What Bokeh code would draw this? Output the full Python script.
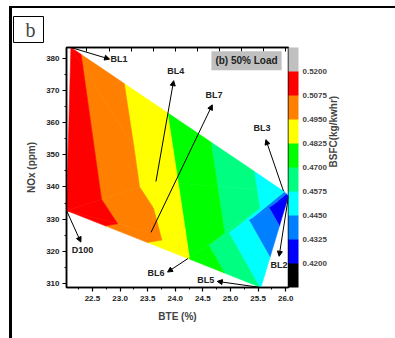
import math
from bokeh.plotting import figure
from bokeh.models import (ColumnDataSource, LinearAxis, SingleIntervalTicker, FixedTicker,
                          ColorBar, LinearColorMapper, PrintfTickFormatter, Arrow, NormalHead,
                          Label, Range1d)
from bokeh.core.properties import value
from bokeh.embed import file_html
from bokeh.resources import INLINE

# ---------------- data ----------------
blends = ["D100", "BL1", "BL2", "BL3", "BL4", "BL5", "BL6", "BL7"]
bte = [22.03, 22.11, 26.05, 25.96, 23.65, 25.55, 24.23, 23.56]      # BTE (%)
nox = [332.7, 383.3, 337.2, 338.7, 341.7, 308.8, 317.8, 325.9]      # NOx (ppm)
bsfc = [0.519, 0.5104, 0.4205, 0.449, 0.4896, 0.457, 0.483, 0.500]  # BSFC (kg/kWhr)

# triangulation of the scattered points (indices into the arrays above)
triangles = [(1, 3, 4), (1, 4, 0), (0, 4, 7), (0, 7, 6), (7, 4, 6), (4, 3, 6), (3, 2, 6), (6, 2, 5)]

levels = [0.4200, 0.4325, 0.4450, 0.4575, 0.4700, 0.4825, 0.4950, 0.5075, 0.5200]
level_colors = ["#000000", "#0000FF", "#0080FF", "#00FFFF", "#00FF80",
                "#00FF00", "#FFFF00", "#FF8000", "#FF0000", "#C0C0C0"]

# annotation placement (label centres and arrow tips), kept apart from the data
label_bte = [22.32, 22.98, 25.88, 25.57, 24.01, 24.55, 23.65, 24.70]
label_nox = [320.5, 379.8, 315.9, 358.2, 376.0, 311.2, 313.4, 368.5]
tip_bte = [22.29, 22.81, 25.88, 25.64, 23.97, 24.76, 23.86, 24.67]
tip_nox = [322.9, 379.7, 318.5, 354.7, 373.0, 310.7, 313.6, 365.5]

FONT = "Liberation Sans"

# ---------------- filled contours (linear interpolation on triangles) ----------------
def clip(poly, c, keep_above):
    out = []
    n = len(poly)
    for i in range(n):
        p0 = poly[i]
        p1 = poly[(i + 1) % n]
        in0 = p0[2] >= c if keep_above else p0[2] <= c
        in1 = p1[2] >= c if keep_above else p1[2] <= c
        if in0:
            out.append(p0)
        if in0 != in1:
            t = (c - p0[2]) / (p1[2] - p0[2])
            out.append((p0[0] + t * (p1[0] - p0[0]), p0[1] + t * (p1[1] - p0[1]), c))
    return out

bounds = [-math.inf] + levels + [math.inf]
xs, ys, cols = [], [], []
for tri in triangles:
    base = [(bte[i], nox[i], bsfc[i]) for i in tri]
    for k in range(len(bounds) - 1):
        poly = base
        if bounds[k] != -math.inf:
            poly = clip(poly, bounds[k], True)
        if len(poly) >= 3 and bounds[k + 1] != math.inf:
            poly = clip(poly, bounds[k + 1], False)
        if len(poly) >= 3:
            xs.append([q[0] for q in poly])
            ys.append([q[1] for q in poly])
            cols.append(level_colors[k])

# figure is shifted by (12, 8) inside the page; the panel rules are drawn by CSS shadows
p = figure(width=383, height=330,
           x_range=Range1d(min(bte), max(bte)), y_range=Range1d(min(nox), max(nox)),
           output_backend="svg", toolbar_location=None,
           min_border_left=54, min_border_right=107, min_border_top=39, min_border_bottom=51)
p.styles = {"margin-left": "12px", "margin-top": "8px",
            "box-shadow": "0 -2px 0 0 #000, -3px 0 0 0 #000, -3px -2px 0 0 #000"}
p.background_fill_color = "white"
p.border_fill_color = "white"
p.outline_line_color = "black"
p.outline_line_width = 1.5
p.grid.visible = False

p.patches(xs="xs", ys="ys", fill_color="c", line_color="c", line_width=0.6,
          source=ColumnDataSource(dict(xs=xs, ys=ys, c=cols)))

# ---------------- panel letter ----------------
p.title.text = "b"
p.title.align = "left"
p.title.offset = -53
p.title.text_font = "Liberation Serif"
p.title.text_font_style = "normal"
p.title.text_font_size = "20px"
p.title.border_line_color = "black"
p.title.border_line_width = 1
p.title.background_fill_color = "white"
p.title.padding = dict(left=12, right=8, top=2, bottom=2)

# ---------------- axes ----------------
p.xaxis.ticker = SingleIntervalTicker(interval=0.5, num_minor_ticks=2)
p.xaxis.formatter = PrintfTickFormatter(format="%.1f")
p.yaxis.ticker = SingleIntervalTicker(interval=10, num_minor_ticks=2)
p.xaxis.axis_label = "BTE (%)"
p.yaxis.axis_label = "NOx (ppm)"
for ax in (p.xaxis, p.yaxis):
    ax.axis_line_width = 1.5
    ax.major_tick_in = 0
    ax.major_tick_out = 4
    ax.minor_tick_in = 0
    ax.minor_tick_out = 2
    ax.major_tick_line_width = 1.2
    ax.major_label_text_font = FONT
    ax.major_label_text_font_style = "bold"
    ax.major_label_text_font_size = "8px"
    ax.major_label_text_color = "#222222"
    ax.axis_label_text_font = FONT
    ax.axis_label_text_font_style = "bold"
    ax.axis_label_text_font_size = "10px"
p.xaxis.major_label_standoff = 4
p.xaxis.axis_label_standoff = 7
p.yaxis.major_label_standoff = 3
p.yaxis.axis_label_standoff = 6

top = LinearAxis(ticker=SingleIntervalTicker(interval=0.4, num_minor_ticks=0),
                 major_tick_in=4, major_tick_out=0, minor_tick_line_color=None,
                 major_label_text_color=None, major_label_standoff=8, axis_line_width=1.5)
p.add_layout(top, "above")

# ---------------- colour scale ----------------
step = levels[1] - levels[0]
mapper = LinearColorMapper(palette=level_colors, low=levels[0] - step, high=levels[-1] + step)
cb = ColorBar(color_mapper=mapper, ticker=FixedTicker(ticks=levels),
              formatter=PrintfTickFormatter(format="%.4f"), width=10,
              padding=0, margin=0, label_standoff=4,
              major_tick_in=0, major_tick_out=0, minor_tick_line_color=None,
              major_label_text_font=FONT, major_label_text_font_style="bold",
              major_label_text_font_size="8px", bar_line_color=None,
              border_line_color=None, background_fill_color=None)
p.add_layout(cb, "right")

cb_title = LinearAxis(ticker=FixedTicker(ticks=[]), axis_line_color=None,
                      major_tick_line_color=None, minor_tick_line_color=None,
                      major_label_standoff=0, axis_label="BSFC(kg/kwhr)",
                      axis_label_standoff=4, axis_label_orientation=math.pi / 2,
                      axis_label_text_font=FONT, axis_label_text_font_style="bold",
                      axis_label_text_font_size="10px")
p.add_layout(cb_title, "right")

# ---------------- point labels & arrows ----------------
src = ColumnDataSource(dict(x=bte, y=nox, ex=tip_bte, ey=tip_nox, lx=label_bte, ly=label_nox, name=blends))
p.add_layout(Arrow(end=NormalHead(size=5, fill_color="black", line_color="black", line_width=1),
                   x_start="x", y_start="y", x_end="ex", y_end="ey", source=src,
                   line_color="black", line_width=1))
p.text(x="lx", y="ly", text="name", source=src, text_font=value(FONT), text_font_style="bold",
       text_font_size="9px", text_align="center", text_baseline="middle", text_color="#222222")

p.add_layout(Label(x=25.29, y=379.2, text="(b) 50% Load", text_align="center", text_baseline="middle",
                   text_font=FONT, text_font_style="bold", text_font_size="10px",
                   background_fill_color="#C0C0C0", padding=4, text_color="#222222"))

open("out.html", "w").write(file_html(p, INLINE))
